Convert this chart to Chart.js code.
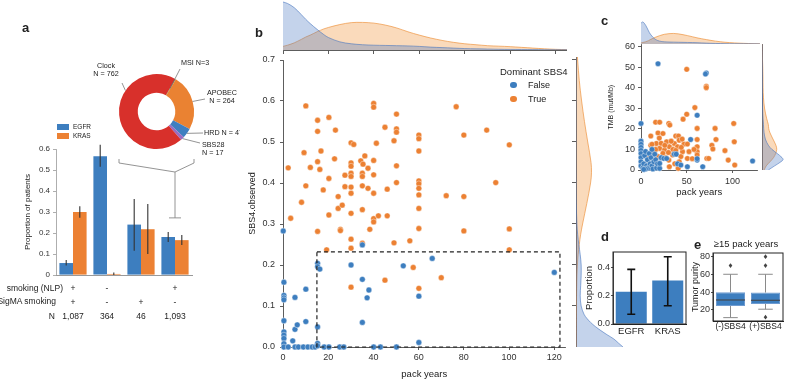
<!DOCTYPE html>
<html>
<head>
<meta charset="utf-8">
<script src="https://cdn.jsdelivr.net/npm/chart.js@4.4.1/dist/chart.umd.min.js"></script>
<style>
  body { margin: 0; background: #fff; width: 786px; height: 381px; position: relative; overflow: hidden;
         font-family: 'Liberation Sans', Arial, sans-serif; color: #222; }
</style>
</head>
<body>
<script>
// ---------- panel a : signature donut + driver bars
const sigLabels = ['MSI', 'APOBEC', 'HRD', 'SBS28', 'Clock'];
const sigCounts = [3, 264, 47, 17, 762];
const groupLabels = [['+', '+', '1,087'], ['-', '-', '364'], ['', '+', '46'], ['+', '-', '1,093']];
const egfrProp = [0.057, 0.565, 0.24, 0.181];
const egfrLow  = [0.045, 0.515, 0.115, 0.157];
const egfrHigh = [0.072, 0.62, 0.362, 0.205];
const krasProp = [0.30, 0.005, 0.218, 0.166];
const krasLow  = [0.273, 0.0, 0.1, 0.143];
const krasHigh = [0.327, 0.012, 0.338, 0.19];

// ---------- panel b : SBS4 vs pack years
const falsePack = [0.1, 0.4, 0.4, 0.4, 0.4, 0.4, 0.4, 0.4, 0.4, 0.4, 0.4, 2.3, 4.3, 5.3, 5.3, 6.3, 5.3, 6.8, 9, 10.1, 10.1, 11, 12.9, 14.2,
  15.3, 15.3, 16.3, 15.3, 15.3, 15.3, 18.2, 20.3, 25.1, 26.9, 30.1, 35.1, 35.1, 35.1, 38, 37.2, 40.1, 43.1, 50.2, 53.2, 60.1, 60.1, 66, 120];
const falseSBS4 = [0.283, 0.158, 0.126, 0.12, 0.115, 0.064, 0.037, 0.029, 0.021, 0.008, 0, 0, 0.015, 0, 0.043, 0.054, 0.121, 0, 0, 0.141, 0.062, 0, 0, 0,
  0.204, 0.196, 0.19, 0.049, 0.009, 0.003, 0, 0, 0, 0, 0.2, 0.249, 0.165, 0.06, 0.139, 0.12, 0, 0, 0, 0.198, 0.124, 0.011, 0.216, 0.182];
const truePack = [2.3, 3.4, 8.2, 9.3, 10.1, 10.1, 12.1, 15.3, 15.3, 15.3, 15.3, 16.3, 16.8, 17.8, 19.3, 20.3, 20.3, 20.3, 22.8, 23.2, 24.4, 24.4,
  25.4, 25.4, 26.2, 27.4, 27.4, 30.1, 31.3, 30.1, 30.1, 30.1, 30.1, 30.1, 30.1, 30.1, 30.1, 30.1, 30.1, 34.4, 35.4, 36.2, 35.1, 35.1, 35.1, 35.1,
  35.1, 37.6, 37.6, 38.4, 40.1, 40.1, 40.1, 40.1, 40.1, 40.1, 40.1, 41.3, 42.2, 45.1, 45.1, 46.1, 46.1, 49.1, 49.1, 50.2, 50.2, 50.2, 50.2, 50.2,
  56.1, 57.6, 60.1, 60.1, 60.1, 60.1, 60.1, 60.1, 60.1, 60.1, 60.1, 60.1, 72.2, 76.6, 80, 80, 80, 90.1, 94.1, 100.1, 100.1, 100.1, 70];
const trueSBS4 = [0.437, 0.314, 0.353, 0.474, 0.588, 0.393, 0.438, 0.553, 0.526, 0.452, 0.282, 0.433, 0.478, 0.383, 0.237, 0.56, 0.411, 0.322, 0.459, 0.529, 0.367, 0.338,
  0.287, 0.284, 0.346, 0.419, 0.391, 0.498, 0.494, 0.449, 0.441, 0.424, 0.416, 0.39, 0.375, 0.326, 0.263, 0.241, 0.146, 0.454, 0.446, 0.466, 0.424, 0.416, 0.393, 0.335,
  0.253, 0.436, 0.387, 0.287, 0.594, 0.585, 0.455, 0.42, 0.375, 0.313, 0.305, 0.497, 0.32, 0.536, 0.163, 0.385, 0.32, 0.503, 0.254, 0.568, 0.532, 0.524, 0.442, 0.401,
  0.259, 0.194, 0.517, 0.508, 0.478, 0.405, 0.398, 0.387, 0.371, 0.338, 0.289, 0.143, 0.369, 0.586, 0.517, 0.367, 0.283, 0.529, 0.401, 0.493, 0.288, 0.237, 0.169];
const lowSbs4Zone = [15, 122.5, 0, 0.232];   // pack years from/to, SBS4 from/to

// marginal densities (peak = 1)
const packGrid   = [0, 2, 5, 8, 10, 12, 15, 18, 20, 25, 30, 35, 40, 45, 50, 55, 60, 65, 70, 75, 80, 85, 90, 95, 100, 105, 110, 115, 120, 125];
const packFalseD = [1.0, 0.97, 0.88, 0.74, 0.64, 0.55, 0.43, 0.32, 0.26, 0.17, 0.13, 0.11, 0.1, 0.095, 0.09, 0.085, 0.075, 0.06, 0.05, 0.04, 0.03, 0.025, 0.02, 0.015, 0.012, 0.01, 0.008, 0.006, 0.005, 0.004];
const packTrueD  = [0.075, 0.1, 0.15, 0.22, 0.27, 0.31, 0.38, 0.44, 0.47, 0.53, 0.57, 0.575, 0.56, 0.52, 0.46, 0.38, 0.31, 0.25, 0.2, 0.16, 0.13, 0.11, 0.09, 0.08, 0.07, 0.055, 0.04, 0.025, 0.014, 0.007];
const sbsGrid    = [0, 0.01, 0.02, 0.03, 0.04, 0.05, 0.06, 0.07, 0.08, 0.1, 0.125, 0.15, 0.175, 0.2, 0.225, 0.25, 0.275, 0.3, 0.35, 0.4, 0.425, 0.45, 0.5, 0.55, 0.6, 0.65, 0.7, 0.71];
const sbsFalseD  = [1.0, 0.9, 0.8, 0.66, 0.53, 0.41, 0.31, 0.23, 0.17, 0.11, 0.09, 0.1, 0.11, 0.11, 0.09, 0.06, 0.035, 0.02, 0.006, 0.002, 0.001, 0, 0, 0, 0, 0, 0, 0];
const sbsTrueD   = [0.005, 0.005, 0.006, 0.006, 0.007, 0.007, 0.008, 0.008, 0.009, 0.01, 0.012, 0.015, 0.02, 0.03, 0.045, 0.07, 0.1, 0.14, 0.23, 0.31, 0.33, 0.32, 0.25, 0.18, 0.12, 0.07, 0.035, 0.03];

// ---------- panel c : TMB vs pack years
const tmbFalsePack = [18.6, 71.4, 70.5, 61.4, 0, 0, 0, 0, 0, 0, 0, 0, 0, 2, 3, 4, 5, 6, 7, 8, 9, 10, 11, 12, 13, 14, 15, 16, 17, 18,
  20.4, 20.4, 22, 25, 28, 36.4, 38.5, 40, 43.6, 50.7, 54.3, 61.4, 61.4, 67.5, 122, 5, 12, 3];
const tmbFalse = [51.6, 47.1, 46.6, 26.6, 22.6, 14, 12.5, 11, 9.5, 8, 6, 4, 2, 1, 3, 7, 9, 2, 5, 1, 8, 3, 6, 2, 0.5, 4, 7.7, 5, 1, 3,
  0.8, 3.2, 6, 5.6, 5.6, 7.7, 7.7, 3, 2.4, 1.6, 14.8, 4.8, 5.5, 1.6, 4.4, 0.5, 10, 0.3];
const tmbTruePack = [50, 71.4, 71.4, 58.9, 50, 46, 30.4, 31.5, 16, 20.4, 61.4, 81, 101.4, 18.6, 24, 38, 41, 10.7, 41.8, 82, 61.4, 102, 36.4, 28,
  16.8, 10.7, 47, 50.7, 77.5, 78.6, 91.8, 61.4, 61.4, 61.4, 40, 31, 20.4, 25.7, 45.4, 52.5, 43.6, 34.6, 24, 13.2, 6, 9, 18.6, 30.4, 41.8, 50.7,
  72, 74, 95.4, 102.5, 40.7, 31, 22, 33, 35, 27, 37, 45, 56, 15, 12, 20, 26, 30, 38, 44, 16, 58];
const tmbTrue = [48.9, 40.6, 40, 30.3, 27.1, 24.7, 22.6, 21.8, 23.2, 23.2, 20.2, 20.2, 22.6, 18, 17.7, 16.5, 16.5, 16.5, 14.5, 14.8, 14.8, 13.7, 12.9, 13.7,
  12.9, 12, 12.6, 12.6, 12, 10.2, 9.4, 11.3, 8.9, 7.3, 11.3, 11.3, 10.5, 9.7, 8.9, 8.9, 6.5, 7.3, 8.1, 8.1, 7.3, 6.5, 6.5, 4.8, 4, 5.6,
  5.6, 5.6, 4.8, 2.4, 0.8, 1.6, 13, 14, 10, 6, 3, 15, 5.5, 3.5, 12.5, 15.5, 12, 8.5, 9.5, 11, 10, 10];
const cPackGrid  = [0, 2, 5, 8, 10, 15, 20, 25, 30, 35, 40, 50, 60, 70, 80, 90, 100, 110, 120, 127.5];
const cPackFalseD = [0.95, 1.0, 0.85, 0.6, 0.45, 0.22, 0.13, 0.1, 0.09, 0.085, 0.08, 0.07, 0.06, 0.04, 0.025, 0.015, 0.01, 0.01, 0.008, 0.005];
const cPackTrueD  = [0.05, 0.07, 0.1, 0.15, 0.2, 0.3, 0.38, 0.44, 0.47, 0.48, 0.46, 0.38, 0.28, 0.2, 0.13, 0.08, 0.05, 0.03, 0.015, 0.01];
const tmbGrid    = [0, 2, 4, 5, 6, 8, 10, 12, 15, 18, 20, 22, 25, 30, 35, 40, 45, 50, 55, 61];
const tmbFalseD  = [0.3, 0.6, 0.9, 1.0, 0.95, 0.72, 0.47, 0.3, 0.16, 0.1, 0.08, 0.07, 0.05, 0.03, 0.025, 0.02, 0.02, 0.015, 0.01, 0.005];
const tmbTrueD   = [0.1, 0.2, 0.38, 0.47, 0.55, 0.65, 0.7, 0.66, 0.52, 0.38, 0.32, 0.3, 0.22, 0.12, 0.07, 0.05, 0.045, 0.035, 0.02, 0.01];

// ---------- panel d / e
const geneLabels = ['EGFR', 'KRAS'];
const geneProp = [0.23, 0.31];
const geneLow  = [0.07, 0.13];
const geneHigh = [0.39, 0.48];
const purityGroups = ['(-)SBS4', '(+)SBS4'];
const purityQ1 = [24.4, 26.8];
const purityMedian = [31.2, 30.9];
const purityQ3 = [39.8, 39.6];
const purityWhiskLow = [11.3, 20.8];
const purityWhiskHigh = [60.2, 60.2];
const purityOutliers = [[70], [80, 70, 11.8]];

const BLUE = '#3d7ebf', ORANGE = '#ec8133', INK = '#333';
const BLUE_FILL = 'rgba(70,118,192,0.32)', BLUE_EDGE = 'rgba(70,118,192,0.75)';
const ORANGE_FILL = 'rgba(240,146,55,0.34)', ORANGE_EDGE = 'rgba(236,140,50,0.8)';

Chart.defaults.font.family = "'Liberation Sans', Arial, sans-serif";
Chart.defaults.font.size = 9;
Chart.defaults.color = INK;
Chart.defaults.animation = false;
Chart.defaults.responsive = false;
Chart.defaults.events = [];
Chart.defaults.plugins.legend.display = false;
Chart.defaults.plugins.tooltip.enabled = false;

function place(left, top, w, h) {
    const c = document.createElement('canvas');
    c.width = w; c.height = h;
    c.style.cssText = `position:absolute;left:${left}px;top:${top}px;width:${w}px;height:${h}px`;
    document.body.appendChild(c);
    return c;
}

function text(str, x, y, size, align, bold) {
    const d = document.createElement('div');
    d.textContent = str;
    d.style.cssText = `position:absolute;top:${y - size * 0.6}px;font-size:${size}px;line-height:${size * 1.2}px;white-space:nowrap;color:#222;` + (bold ? 'font-weight:bold;' : '');
    if (align === 'right') d.style.right = (786 - x) + 'px';
    else if (align === 'center') { d.style.left = x + 'px'; d.style.transform = 'translateX(-50%)'; }
    else d.style.left = x + 'px';
    document.body.appendChild(d);
    return d;
}

function zip(xs, ys) { return xs.map((x, i) => ({ x: x, y: ys[i] })); }

// fixed scale size, no extra label padding
function fixSize(size) {
    return s => {
        if (s.isHorizontal()) s.height = size; else s.width = size;
        s.paddingTop = s.paddingBottom = s.paddingLeft = s.paddingRight = 0;
    };
}

function axis(min, max, step, size, o) {
    o = o || {};
    const col = o.color || INK;
    const tl = o.tickLength === undefined ? 3 : o.tickLength;
    const a = {
        type: 'linear', min: min, max: max,
        position: o.position,
        afterBuildTicks: s => { s.ticks = s.ticks.filter(t => Math.abs(t.value / step - Math.round(t.value / step)) < 1e-6); },
        afterFit: fixSize(size),
        grid: { drawOnChartArea: false, drawTicks: tl > 0, tickLength: tl, color: col, lineWidth: 0.8 },
        border: { color: col, width: 0.8 },
        ticks: {
            display: o.labels !== false, stepSize: step, includeBounds: false, autoSkip: false, maxRotation: 0,
            color: INK, padding: o.pad === undefined ? 3 : o.pad, font: { size: o.font || 9 }
        },
        title: o.title ? { display: true, text: o.title, color: '#222', font: { size: o.titleSize || 9 }, padding: o.titlePad || 0 } : { display: false }
    };
    if (o.fmt) a.ticks.callback = o.fmt;
    return a;
}

function densitySets(grid, falseD, trueD, horizontal) {
    const pt = horizontal ? (g, v) => ({ x: g, y: v }) : (g, v) => ({ x: v, y: g });
    const base = { fill: 'origin', borderWidth: 0.8, pointRadius: 0, tension: 0.35 };
    return [
        Object.assign({ data: grid.map((g, i) => pt(g, falseD[i])), backgroundColor: BLUE_FILL, borderColor: BLUE_EDGE }, base),
        Object.assign({ data: grid.map((g, i) => pt(g, trueD[i])), backgroundColor: ORANGE_FILL, borderColor: ORANGE_EDGE }, base)
    ];
}

function errorBars(lows, highs, color, width, cap) {
    return {
        id: 'errorBars',
        afterDatasetsDraw(chart) {
            const ctx = chart.ctx, y = chart.scales.y;
            ctx.save();
            ctx.strokeStyle = color; ctx.lineWidth = width;
            lows.forEach((low, d) => {
                chart.getDatasetMeta(d).data.forEach((bar, i) => {
                    const y0 = y.getPixelForValue(low[i]), y1 = y.getPixelForValue(highs[d][i]);
                    ctx.beginPath();
                    ctx.moveTo(bar.x, y0); ctx.lineTo(bar.x, y1);
                    if (cap) {
                        ctx.moveTo(bar.x - cap, y0); ctx.lineTo(bar.x + cap, y0);
                        ctx.moveTo(bar.x - cap, y1); ctx.lineTo(bar.x + cap, y1);
                    }
                    ctx.stroke();
                });
            });
            ctx.restore();
        }
    };
}

const frame = {
    id: 'frame',
    afterDraw(chart) {
        const a = chart.chartArea, ctx = chart.ctx;
        ctx.save(); ctx.strokeStyle = '#222'; ctx.lineWidth = 1;
        ctx.strokeRect(a.left, a.top, a.right - a.left, a.bottom - a.top);
        ctx.restore();
    }
};

const flatTicks = (size, pad) => ({ color: '#222', font: { size: size }, padding: pad, autoSkip: false, maxRotation: 0, minRotation: 0 });

// ================= panel b =================
// right marginal (drawn first so panel d sits above it)
new Chart(place(572, 57, 68, 290), {
    type: 'line',
    data: { datasets: densitySets(sbsGrid, sbsFalseD, sbsTrueD, false) },
    options: {
        indexAxis: 'y',
        scales: {
            y: axis(0, 0.7073, 0.1, 4, { labels: false, tickLength: 4 }),
            x: { type: 'linear', display: false, min: 0, max: 1.362 }
        }
    }
});

new Chart(place(283, 0, 284, 55), {
    type: 'line',
    data: { datasets: densitySets(packGrid, packFalseD, packTrueD, true) },
    options: {
        scales: {
            x: axis(0, 125, 20, 5, { labels: false, tickLength: 4 }),
            y: { type: 'linear', display: false, min: 0, max: 1.042 }
        }
    }
});

new Chart(place(230, 40, 340, 341), {
    type: 'scatter',
    data: {
        datasets: [
            { label: 'False', data: zip(falsePack, falseSBS4), backgroundColor: BLUE, borderColor: '#fff', borderWidth: 0.4, pointRadius: 2.9, clip: false },
            { label: 'True', data: zip(truePack, trueSBS4), backgroundColor: ORANGE, borderColor: '#fff', borderWidth: 0.4, pointRadius: 2.9, clip: false }
        ]
    },
    options: {
        layout: { padding: { top: 20, right: 3 } },
        scales: {
            x: axis(0, 125, 20, 34, { pad: 2, title: 'pack years', titleSize: 9.5, titlePad: { top: 0, bottom: 1 } }),
            y: axis(0, 0.7, 0.1, 53, { pad: 5, fmt: v => v.toFixed(1), title: 'SBS4.observed', titlePad: { top: 17 } })
        }
    },
    plugins: [{
        id: 'dashedBox',
        afterDatasetsDraw(chart) {
            const { ctx, scales: { x, y } } = chart;
            const l = x.getPixelForValue(lowSbs4Zone[0]), r = x.getPixelForValue(lowSbs4Zone[1]);
            const b = y.getPixelForValue(lowSbs4Zone[2]), t = y.getPixelForValue(lowSbs4Zone[3]);
            ctx.save(); ctx.setLineDash([4, 3]); ctx.strokeStyle = '#222'; ctx.lineWidth = 1.2;
            ctx.strokeRect(l, t, r - l, b - t);
            ctx.restore();
        }
    }]
});

text('Dominant SBS4', 500, 72, 9.5);
[['False', BLUE, 85], ['True', ORANGE, 99]].forEach(([name, col, y]) => {
    const m = document.createElement('div');
    m.style.cssText = `position:absolute;left:${510}px;top:${y - 3.3}px;width:6.6px;height:6.6px;border-radius:50%;background:${col}`;
    document.body.appendChild(m);
    text(name, 528, y, 9);
});

// ================= panel a =================
const donutNotes = [
    { lines: ['MSI N=3'], x: 181, y: 63, align: 'left', from: [180, 69], depth: 0.4 },
    { lines: ['APOBEC', 'N = 264'], x: 222, y: 93, align: 'center', from: [205, 99], depth: 1 },
    { lines: ['HRD N = 47'], x: 204, y: 133, align: 'left', from: [203, 133], depth: 1 },
    { lines: ['SBS28', 'N = 17'], x: 202, y: 145, align: 'left', from: [200, 143], depth: 1 },
    { lines: ['Clock', 'N = 762'], x: 106, y: 66, align: 'center', from: [122, 83], depth: 1, angle: 304 }
];
const DONUT_LEFT = 60, DONUT_TOP = 40;
new Chart(place(DONUT_LEFT, DONUT_TOP, 180, 125), {
    type: 'doughnut',
    data: {
        labels: sigLabels,
        datasets: [{ data: sigCounts, backgroundColor: ['#4c9a3c', '#ea8232', '#3f7fc0', '#9a6cc2', '#d8302b'], borderWidth: 0 }]
    },
    options: {
        rotation: 30, cutout: '50%',
        layout: { padding: { left: 59, top: 34, right: 46, bottom: 16 } }
    },
    plugins: [{
        id: 'donutNotes',
        afterDraw(chart) {
            const ctx = chart.ctx, arcs = chart.getDatasetMeta(0).data;
            ctx.save();
            ctx.strokeStyle = '#666'; ctx.lineWidth = 0.7; ctx.fillStyle = '#222';
            ctx.font = "7.2px 'Liberation Sans', Arial, sans-serif"; ctx.textBaseline = 'middle';
            donutNotes.forEach((n, i) => {
                const a = arcs[i];
                const ang = n.angle !== undefined ? (n.angle - 90) * Math.PI / 180 : (a.startAngle + a.endAngle) / 2;
                const r = a.innerRadius + (a.outerRadius - a.innerRadius) * n.depth;
                ctx.beginPath();
                ctx.moveTo(n.from[0] - DONUT_LEFT, n.from[1] - DONUT_TOP);
                ctx.lineTo(a.x + r * Math.cos(ang), a.y + r * Math.sin(ang));
                ctx.stroke();
                ctx.textAlign = n.align;
                n.lines.forEach((ln, k) => ctx.fillText(ln, n.x - DONUT_LEFT, n.y - DONUT_TOP + k * 8));
            });
            ctx.restore();
        }
    }]
});

const BAR_TOP = 140;
new Chart(place(0, BAR_TOP, 200, 181), {
    type: 'bar',
    data: {
        labels: groupLabels,
        datasets: [
            { label: 'EGFR', data: egfrProp, backgroundColor: BLUE, categoryPercentage: 0.8, barPercentage: 1 },
            { label: 'KRAS', data: krasProp, backgroundColor: ORANGE, categoryPercentage: 0.8, barPercentage: 1 }
        ]
    },
    options: {
        layout: { padding: { top: 9, right: 8 } },
        scales: {
            x: {
                afterFit: fixSize(46),
                grid: { display: false, drawTicks: false },
                border: { color: '#999', width: 1 },
                ticks: { color: '#222', font: { size: 8.5, lineHeight: 1.62 }, padding: 7, autoSkip: false, maxRotation: 0 }
            },
            y: axis(0, 0.6, 0.1, 56, { color: '#999', font: 8, fmt: v => v === 0 ? '0' : v.toFixed(1), title: 'Proportion of patients', titleSize: 8, titlePad: { top: 23 } })
        }
    },
    plugins: [errorBars([egfrLow, krasLow], [egfrHigh, krasHigh], '#333', 1.1, 0), {
        id: 'bracket',
        afterDraw(chart) {
            const ctx = chart.ctx;
            const xc = chart.scales.x.getPixelForValue(3), yv = chart.scales.y.getPixelForValue(0.272);
            ctx.save(); ctx.strokeStyle = '#888'; ctx.lineWidth = 0.9;
            ctx.beginPath();
            ctx.moveTo(119, 159 - BAR_TOP); ctx.lineTo(119, 163 - BAR_TOP); ctx.lineTo(xc, 172 - BAR_TOP);
            ctx.lineTo(194, 163 - BAR_TOP); ctx.lineTo(194, 159 - BAR_TOP);
            ctx.moveTo(xc, 172 - BAR_TOP); ctx.lineTo(xc, yv);
            ctx.moveTo(xc - 6, yv); ctx.lineTo(xc + 6, yv);
            ctx.stroke(); ctx.restore();
        }
    }]
});

[['EGFR', BLUE, 127], ['KRAS', ORANGE, 136]].forEach(([name, col, y]) => {
    const m = document.createElement('div');
    m.style.cssText = `position:absolute;left:57px;top:${y - 3}px;width:12px;height:6px;background:${col}`;
    document.body.appendChild(m);
    text(name, 73, y, 6.5);
});
text('smoking (NLP)', 63, 288, 8.5, 'right');
text('SigMA smoking', 56, 301, 8.5, 'right');
text('N', 55, 316, 8.5, 'right');

// ================= panel c =================
new Chart(place(641, 20, 119, 24), {
    type: 'line',
    data: { datasets: densitySets(cPackGrid, cPackFalseD, cPackTrueD, true) },
    options: {
        scales: {
            x: axis(0, 127.5, 50, 0, { labels: false, tickLength: 0 }),
            y: { type: 'linear', display: false, min: 0, max: 1.09 }
        }
    }
});
new Chart(place(760, 44, 26, 126), {
    type: 'line',
    data: { datasets: densitySets(tmbGrid, tmbFalseD, tmbTrueD, false) },
    options: {
        indexAxis: 'y',
        scales: {
            y: axis(0, 61, 10, 2, { labels: false, tickLength: 0 }),
            x: { type: 'linear', display: false, min: 0, max: 1.14 }
        }
    }
});
new Chart(place(600, 40, 162, 160), {
    type: 'scatter',
    data: {
        datasets: [
            { data: zip(tmbFalsePack, tmbFalse), backgroundColor: BLUE, borderColor: '#fff', borderWidth: 0.4, pointRadius: 2.8, clip: false },
            { data: zip(tmbTruePack, tmbTrue), backgroundColor: ORANGE, borderColor: '#fff', borderWidth: 0.4, pointRadius: 2.8, clip: false }
        ]
    },
    options: {
        layout: { padding: { top: 4, right: 2 } },
        scales: {
            x: axis(0, 127.5, 50, 30, { pad: 3, title: 'pack years', titleSize: 9.5, titlePad: { top: 0, bottom: 2 } }),
            y: axis(0, 61, 10, 41, { pad: 3, title: 'TMB (mut/Mb)', titleSize: 7, titlePad: { top: 7 } })
        }
    }
});

// ================= panel d =================
new Chart(place(580, 245, 110, 95), {
    type: 'bar',
    data: { labels: geneLabels, datasets: [{ data: geneProp, backgroundColor: BLUE, barPercentage: 0.85, categoryPercentage: 1 }] },
    options: {
        layout: { padding: { top: 7, right: 4 } },
        scales: {
            x: { afterFit: fixSize(16), grid: { display: false, drawTicks: false }, border: { color: '#222' }, ticks: flatTicks(9.5, 2) },
            y: axis(0, 0.514, 0.2, 33, { color: '#222', pad: 1, tickLength: 2, font: 9, fmt: v => v.toFixed(1), title: 'Proportion', titleSize: 9.5, titlePad: { top: 4 } })
        }
    },
    plugins: [errorBars([geneLow], [geneHigh], '#111', 1.6, 4), frame]
});

// ================= panel e =================
new Chart(place(690, 235, 96, 100), {
    type: 'bar',
    data: {
        labels: purityGroups,
        datasets: [{
            data: purityQ1.map((q, i) => [q, purityQ3[i]]), backgroundColor: BLUE, borderColor: '#6f9bd0', borderWidth: 1,
            borderSkipped: false, barPercentage: 0.83, categoryPercentage: 1
        }]
    },
    options: {
        layout: { padding: { top: 18, right: 3 } },
        scales: {
            x: { afterFit: fixSize(14), grid: { display: false, drawTicks: false }, border: { color: '#222' }, ticks: flatTicks(8.5, 1) },
            y: axis(7.5, 84.2, 20, 23, { color: '#222', pad: 1, tickLength: 2, font: 9, title: 'Tumor purity', titleSize: 9, titlePad: { top: 0 } })
        }
    },
    plugins: [{
        id: 'boxPlot',
        afterDatasetsDraw(chart) {
            const ctx = chart.ctx, y = chart.scales.y;
            chart.getDatasetMeta(0).data.forEach((bar, i) => {
                const x = bar.x, half = bar.width / 2, cap = bar.width / 4;
                const yq1 = y.getPixelForValue(purityQ1[i]), yq3 = y.getPixelForValue(purityQ3[i]);
                const ylo = y.getPixelForValue(purityWhiskLow[i]), yhi = y.getPixelForValue(purityWhiskHigh[i]);
                const ym = y.getPixelForValue(purityMedian[i]);
                ctx.save();
                ctx.strokeStyle = '#8a8a8a'; ctx.lineWidth = 1;
                ctx.beginPath();
                ctx.moveTo(x, yq1); ctx.lineTo(x, ylo); ctx.moveTo(x - cap, ylo); ctx.lineTo(x + cap, ylo);
                ctx.moveTo(x, yq3); ctx.lineTo(x, yhi); ctx.moveTo(x - cap, yhi); ctx.lineTo(x + cap, yhi);
                ctx.stroke();
                ctx.strokeStyle = '#444'; ctx.lineWidth = 1.1;
                ctx.beginPath(); ctx.moveTo(x - half, ym); ctx.lineTo(x + half, ym); ctx.stroke();
                ctx.fillStyle = '#444';
                purityOutliers[i].forEach(v => {
                    const yo = y.getPixelForValue(v);
                    ctx.beginPath();
                    ctx.moveTo(x, yo - 2.4); ctx.lineTo(x + 1.8, yo); ctx.lineTo(x, yo + 2.4); ctx.lineTo(x - 1.8, yo);
                    ctx.closePath(); ctx.fill();
                });
                ctx.restore();
            });
        }
    }, frame]
});
text('≥15 pack years', 746, 244, 9.5, 'center');

// panel letters
text('a', 22, 28, 13, 'left', true);
text('b', 255, 33, 13, 'left', true);
text('c', 601, 21, 13, 'left', true);
text('d', 601, 237, 13, 'left', true);
text('e', 694, 245, 13, 'left', true);
</script>
</body>
</html>
